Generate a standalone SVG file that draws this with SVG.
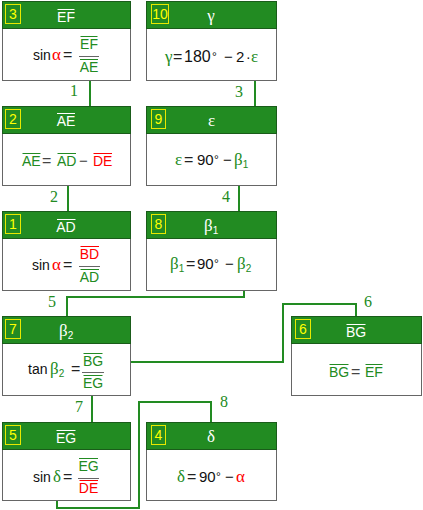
<svg xmlns="http://www.w3.org/2000/svg" width="423" height="510" viewBox="0 0 423 510">
<style>
.hd{fill:#228b22;stroke:#1a5c1a;stroke-width:1}
.bd{fill:#fff;stroke:#666;stroke-width:1}
.bg{fill:#228b22;stroke:#e8e800;stroke-width:1}
.bn{fill:#ffff00;font-family:"Liberation Sans",Arial,sans-serif;font-size:14px;text-anchor:middle}
.ht{fill:#fff;font-family:"Liberation Sans",Arial,sans-serif;font-size:14px;text-anchor:middle}
.hg{fill:#fff;font-family:"Liberation Serif","Times New Roman",serif;font-size:17px}
.f{fill:#111;font-family:"Liberation Sans",Arial,sans-serif;font-size:14px}
.eq{fill:#222;font-family:"Liberation Sans",Arial,sans-serif;font-size:16px}
.n{fill:#111;font-family:"Liberation Sans",Arial,sans-serif;font-size:15px}
.gk{font-family:"Liberation Serif","Times New Roman",serif;font-size:17px}
.sub{font-family:"Liberation Sans",Arial,sans-serif;font-size:10px}
.g{fill:#228b22}
.r{fill:#ff0000}
.m{text-anchor:middle}
.ow{stroke:#fff;stroke-width:1}
.og{stroke:#228b22;stroke-width:1}
.or{stroke:#ff0000;stroke-width:1}
.fb{stroke:#666;stroke-width:1}
.cn{fill:none;stroke:#228b22;stroke-width:2}
.lb{fill:#228b22;font-family:"Liberation Serif","Times New Roman",serif;font-size:16px;text-anchor:middle}
</style>

<g id="connectors">
<path class="cn" d="M90,76 V106"/>
<path class="cn" d="M68,172 V212"/>
<path class="cn" d="M255,65 V106"/>
<path class="cn" d="M239,171 V212"/>
<path class="cn" d="M244,277 V297 H67 V316"/>
<path class="cn" d="M113,362 H283 V304 H356 V317"/>
<path class="cn" d="M92,392 V423"/>
<path class="cn" d="M57,487 V508 H139 V402 H211 V423"/>
<text class="lb" x="74" y="96">1</text>
<text class="lb" x="54" y="202">2</text>
<text class="lb" x="239" y="97">3</text>
<text class="lb" x="226" y="202">4</text>
<text class="lb" x="52" y="307">5</text>
<text class="lb" x="368" y="307">6</text>
<text class="lb" x="79" y="412">7</text>
<text class="lb" x="224" y="407">8</text>
</g>

<g id="n3">
<rect class="bd" x="2.5" y="28.5" width="128" height="52"/>
<rect class="hd" x="2.5" y="1.5" width="128" height="27"/>
<rect class="bg" x="5.5" y="4.5" width="15" height="19"/>
<text class="bn" x="13" y="19">3</text>
<text class="ht" x="66" y="22">EF</text>
<line class="ow" x1="57.5" y1="9.5" x2="74.5" y2="9.5"/>
<text class="f" x="33" y="60">sin</text>
<text class="gk r" x="52" y="60">α</text>
<text class="eq" x="63" y="60">=</text>
<text class="f g m" x="89" y="49">EF</text>
<line class="og" x1="80.5" y1="36.5" x2="97.5" y2="36.5"/>
<line class="fb" x1="79" y1="56.5" x2="99" y2="56.5"/>
<text class="f g m" x="89" y="72">AE</text>
<line class="og" x1="80" y1="59.5" x2="98" y2="59.5"/>
</g>

<g id="n10">
<rect class="bd" x="146.5" y="28.5" width="130" height="52"/>
<rect class="hd" x="146.5" y="1.5" width="130" height="27"/>
<rect class="bg" x="151.5" y="4.5" width="17" height="19"/>
<text class="bn" x="160" y="19">10</text>
<text class="hg m" x="211" y="21">γ</text>
<text class="gk g" x="165" y="62">γ</text>
<text class="eq" x="173" y="62">=</text>
<text class="n" x="184" y="62" style="font-size:16px">180</text>
<text class="f" x="212" y="61" style="font-size:12px">°</text>
<text class="n" x="224" y="62">−</text>
<text class="n" x="236" y="62">2</text>
<text class="f" x="246" y="62">·</text>
<text class="gk g" x="251" y="62">ε</text>
</g>

<g id="n2">
<rect class="bd" x="2.5" y="133.5" width="128" height="52"/>
<rect class="hd" x="2.5" y="106.5" width="128" height="27"/>
<rect class="bg" x="5.5" y="109.5" width="15" height="19"/>
<text class="bn" x="13" y="124">2</text>
<text class="ht" x="66" y="126">AE</text>
<line class="ow" x1="57" y1="113.5" x2="75" y2="113.5"/>
<text class="f g" x="22" y="166">AE</text>
<line class="og" x1="22.5" y1="153.5" x2="40.5" y2="153.5"/>
<text class="eq" x="42" y="166" style="fill:#444">=</text>
<text class="f g" x="57" y="166">AD</text>
<line class="og" x1="57.5" y1="153.5" x2="76" y2="153.5"/>
<text class="n" x="79" y="166" style="fill:#444">−</text>
<text class="f r" x="93" y="166">DE</text>
<line class="or" x1="93.5" y1="153.5" x2="112" y2="153.5"/>
</g>

<g id="n9">
<rect class="bd" x="146.5" y="133.5" width="130" height="52"/>
<rect class="hd" x="146.5" y="106.5" width="130" height="27"/>
<rect class="bg" x="151.5" y="109.5" width="14" height="19"/>
<text class="bn" x="158.5" y="124">9</text>
<text class="hg m" x="211.5" y="126">ε</text>
<text class="gk g" x="175" y="165">ε</text>
<text class="eq" x="184" y="165">=</text>
<text class="n" x="197" y="165">90</text>
<text class="f" x="214" y="164" style="font-size:12px">°</text>
<text class="n" x="223" y="165">−</text>
<text class="gk g" x="234" y="165">β<tspan class="sub" dy="3">1</tspan></text>
</g>

<g id="n1">
<rect class="bd" x="2.5" y="238.5" width="128" height="52"/>
<rect class="hd" x="2.5" y="211.5" width="128" height="27"/>
<rect class="bg" x="5.5" y="214.5" width="15" height="19"/>
<text class="bn" x="13" y="229">1</text>
<text class="ht" x="66" y="232">AD</text>
<line class="ow" x1="57" y1="219.5" x2="75.5" y2="219.5"/>
<text class="f" x="32" y="270">sin</text>
<text class="gk r" x="52" y="270">α</text>
<text class="eq" x="63" y="270">=</text>
<text class="f r m" x="89.5" y="259">BD</text>
<line class="or" x1="80.5" y1="246.5" x2="99" y2="246.5"/>
<line class="fb" x1="79" y1="266.5" x2="100" y2="266.5"/>
<text class="f g m" x="89.5" y="282">AD</text>
<line class="og" x1="80.5" y1="269.5" x2="99" y2="269.5"/>
</g>

<g id="n8">
<rect class="bd" x="146.5" y="238.5" width="130" height="52"/>
<rect class="hd" x="146.5" y="211.5" width="130" height="27"/>
<rect class="bg" x="151.5" y="214.5" width="14" height="19"/>
<text class="bn" x="158.5" y="229">8</text>
<text class="hg" x="204" y="231">β<tspan class="sub" dy="3">1</tspan></text>
<text class="gk g" x="170" y="269">β<tspan class="sub" dy="3">1</tspan></text>
<text class="eq" x="186" y="269">=</text>
<text class="n" x="197" y="269">90</text>
<text class="f" x="214" y="268" style="font-size:12px">°</text>
<text class="n" x="225" y="269">−</text>
<text class="gk g" x="237" y="269">β<tspan class="sub" dy="3">2</tspan></text>
</g>

<g id="n7">
<rect class="bd" x="2.5" y="343.5" width="128" height="52"/>
<rect class="hd" x="2.5" y="316.5" width="128" height="27"/>
<rect class="bg" x="5.5" y="319.5" width="15" height="19"/>
<text class="bn" x="13" y="334">7</text>
<text class="hg" x="59" y="336">β<tspan class="sub" dy="3">2</tspan></text>
<text class="f" x="28" y="374">tan</text>
<text class="gk g" x="50" y="374">β<tspan class="sub" dy="3">2</tspan></text>
<text class="eq" x="71" y="374">=</text>
<text class="f g m" x="93" y="366">BG</text>
<line class="og" x1="83.5" y1="353.5" x2="102.5" y2="353.5"/>
<line class="fb" x1="82" y1="372.5" x2="104" y2="372.5"/>
<text class="f g m" x="93" y="388">EG</text>
<line class="og" x1="83.5" y1="375.5" x2="102.5" y2="375.5"/>
</g>

<g id="n6">
<rect class="bd" x="291.5" y="343.5" width="130" height="52"/>
<rect class="hd" x="291.5" y="316.5" width="130" height="27"/>
<rect class="bg" x="295.5" y="319.5" width="15" height="19"/>
<text class="bn" x="303" y="334">6</text>
<text class="ht" x="356" y="337">BG</text>
<line class="ow" x1="346.5" y1="324.5" x2="365.5" y2="324.5"/>
<text class="f g" x="329" y="377">BG</text>
<line class="og" x1="329.5" y1="364.5" x2="348.5" y2="364.5"/>
<text class="eq" x="351" y="377" style="fill:#444">=</text>
<text class="f g" x="365" y="377">EF</text>
<line class="og" x1="365.5" y1="364.5" x2="382.5" y2="364.5"/>
</g>

<g id="n5">
<rect class="bd" x="2.5" y="449.5" width="128" height="51"/>
<rect class="hd" x="2.5" y="422.5" width="128" height="27"/>
<rect class="bg" x="5.5" y="425.5" width="15" height="19"/>
<text class="bn" x="13" y="440">5</text>
<text class="ht" x="66" y="443">EG</text>
<line class="ow" x1="56.5" y1="430.5" x2="75.5" y2="430.5"/>
<text class="f" x="33" y="482">sin</text>
<text class="gk g" x="53" y="482">δ</text>
<text class="eq" x="63" y="482">=</text>
<text class="f g m" x="88.5" y="471">EG</text>
<line class="og" x1="79" y1="458.5" x2="98" y2="458.5"/>
<line class="fb" x1="78" y1="478.5" x2="99" y2="478.5"/>
<text class="f r m" x="88.5" y="493">DE</text>
<line class="or" x1="79.5" y1="480.5" x2="98" y2="480.5"/>
</g>

<g id="n4">
<rect class="bd" x="146.5" y="449.5" width="130" height="51"/>
<rect class="hd" x="146.5" y="422.5" width="130" height="27"/>
<rect class="bg" x="151.5" y="425.5" width="14" height="19"/>
<text class="bn" x="158.5" y="440">4</text>
<text class="hg m" x="211" y="442">δ</text>
<text class="gk g" x="177" y="482">δ</text>
<text class="eq" x="187" y="482">=</text>
<text class="n" x="199" y="482">90</text>
<text class="f" x="216" y="481" style="font-size:12px">°</text>
<text class="n" x="225" y="482">−</text>
<text class="gk r" x="236" y="482">α</text>
</g>
</svg>
